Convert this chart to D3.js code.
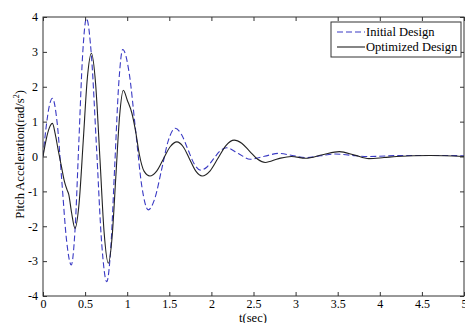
<!DOCTYPE html>
<html><head><meta charset="utf-8">
<script src="https://cdn.jsdelivr.net/npm/d3@7/dist/d3.min.js"></script>
<style>
html,body{margin:0;padding:0;background:#fff;}
svg{display:block;}
text{font-family:"Liberation Serif","Times New Roman",serif;fill:#000;}
</style></head>
<body>
<svg id="chart" width="465" height="323"></svg>
<script>
// ---- data ----
const seriesNames = ["Initial Design", "Optimized Design"];
const xTicks = [0, 0.5, 1, 1.5, 2, 2.5, 3, 3.5, 4, 4.5, 5];
const xTickLabels = ["0", "0.5", "1", "1.5", "2", "2.5", "3", "3.5", "4", "4.5", "5"];
const yTicks = [-4, -3, -2, -1, 0, 1, 2, 3, 4];
const yTickLabels = ["-4", "-3", "-2", "-1", "0", "1", "2", "3", "4"];

const tInitial = [0, 0.037, 0.075, 0.112, 0.168, 0.224, 0.28, 0.336, 0.381, 0.426, 0.471, 0.516,
  0.576, 0.637, 0.697, 0.757, 0.805, 0.852, 0.9, 0.947, 1.023, 1.099, 1.174, 1.25,
  1.33, 1.41, 1.49, 1.57, 1.645, 1.72, 1.795, 1.87, 1.948, 2.025, 2.103, 2.18,
  2.32, 2.46, 2.63, 2.8, 2.96, 3.12, 3.3, 3.47, 3.66, 3.85, 4.3, 4.7, 5.0];
const initial = [0, 0.84, 1.45, 1.67, 0.97, -0.72, -2.41, -3.11, -2.08, 0.43, 2.93, 3.96,
  2.86, 0.19, -2.49, -3.59, -2.62, -0.26, 2.10, 3.07, 2.40, 0.77, -0.86, -1.53,
  -1.19, -0.36, 0.47, 0.81, 0.63, 0.21, -0.21, -0.39, -0.30, -0.07, 0.16, 0.25,
  0.085, -0.08, 0.005, 0.09, 0.03, -0.03, 0.02, 0.07, 0.035, 0.0, 0.03, 0.03, 0.02];

const tOptimized = [0, 0.037, 0.075, 0.112, 0.145, 0.18, 0.22, 0.255, 0.285, 0.305, 0.34, 0.38,
  0.429, 0.478, 0.526, 0.575, 0.625, 0.676, 0.726, 0.776, 0.82, 0.865, 0.91, 0.954,
  1.0, 1.056, 1.1, 1.145, 1.2, 1.27, 1.35, 1.43, 1.51, 1.59, 1.665, 1.74, 1.815, 1.89,
  1.985, 2.08, 2.175, 2.27, 2.36, 2.455, 2.55, 2.64, 2.8, 2.95, 3.12, 3.32, 3.52,
  3.7, 3.87, 4.05, 4.2, 4.6, 5.0];
const optimized = [0, 0.48, 0.82, 0.95, 0.65, 0.19, -0.30, -0.72, -0.95, -1.08, -1.62, -2.06,
  -1.33, 0.45, 2.23, 2.96, 2.08, -0.05, -2.18, -3.06, -2.33, -0.58, 1.17, 1.90,
  1.62, 1.24, 0.72, 0.05, -0.42, -0.56, -0.42, -0.07, 0.28, 0.42, 0.28, -0.07, -0.42, -0.56,
  -0.41, -0.045, 0.32, 0.47, 0.38, 0.15, -0.08, -0.17, -0.06, 0.0, -0.05, 0.05, 0.14,
  0.04, -0.06, -0.03, 0.0, 0.03, 0.0];

// ---- layout ----
const svg = d3.select("#chart");
const pL = 43, pR = 464, pT = 17, pB = 296;
const x = d3.scaleLinear().domain([0, 5]).range([pL, pR]);
const y = d3.scaleLinear().domain([-4, 4]).range([pB, pT]);

const g = svg.append("g");

// curves
const line = d3.line().x(d => x(d[0])).y(d => y(d[1])).curve(d3.curveMonotoneX);
const initData = tInitial.map((t, i) => [t, initial[i]]);
const optData = tOptimized.map((t, i) => [t, optimized[i]]);

svg.append("clipPath").attr("id", "clip").append("rect")
  .attr("x", pL).attr("y", pT - 1).attr("width", pR - pL).attr("height", pB - pT + 2);

g.append("path").datum(initData).attr("d", line).attr("clip-path", "url(#clip)")
  .attr("fill", "none").attr("stroke", "#3a3ac4").attr("stroke-width", 1.1)
  .attr("stroke-dasharray", "6,3");
g.append("path").datum(optData).attr("d", line).attr("clip-path", "url(#clip)")
  .attr("fill", "none").attr("stroke", "#222").attr("stroke-width", 1.1);

// axes with inward ticks on all four sides
const tickLen = 4;
const axColor = "#333";
const xb = d3.axisBottom(x).tickValues(xTicks).tickSizeInner(-tickLen).tickSizeOuter(0)
  .tickPadding(3).tickFormat((d, i) => xTickLabels[i]);
const yl = d3.axisLeft(y).tickValues(yTicks).tickSizeInner(-tickLen).tickSizeOuter(0)
  .tickPadding(5).tickFormat((d, i) => yTickLabels[i]);
const xt = d3.axisTop(x).tickValues(xTicks).tickSizeInner(-tickLen).tickSizeOuter(0).tickFormat("");
const yr = d3.axisRight(y).tickValues(yTicks).tickSizeInner(-tickLen).tickSizeOuter(0).tickFormat("");

function style(sel) {
  sel.attr("font-family", null).attr("font-size", null);
  sel.selectAll("path.domain").remove();
  sel.selectAll("line").attr("stroke", axColor);
  sel.selectAll("text").style("font-family", "'Liberation Serif', serif").style("font-size", "12px").attr("fill", "#000");
}
g.append("g").attr("transform", `translate(0,${pB})`).call(xb).call(style);
g.append("g").attr("transform", `translate(${pL},0)`).call(yl).call(style);
g.append("g").attr("transform", `translate(0,${pT})`).call(xt).call(style);
g.append("g").attr("transform", `translate(${pR},0)`).call(yr).call(style);

// frame
g.append("rect").attr("x", pL).attr("y", pT).attr("width", pR - pL).attr("height", pB - pT)
  .attr("fill", "none").attr("stroke", axColor).attr("stroke-width", 1);

// axis labels
svg.append("text").attr("x", 253).attr("y", 321.5).attr("text-anchor", "middle")
  .attr("font-size", 12.5).text("t(sec)");
const yt = svg.append("text").attr("transform", `translate(24,${(pT + pB) / 2 - 2}) rotate(-90)`)
  .attr("text-anchor", "middle").attr("font-size", 12.5);
yt.append("tspan").text("Pitch Acceleration(rad/s");
yt.append("tspan").attr("dy", -5).attr("font-size", 8).text("2");
yt.append("tspan").attr("dy", 5).text(")");

// legend
const lg = svg.append("g");
const lx = 331, ly = 22, lw = 130, lh = 35;
lg.append("rect").attr("x", lx).attr("y", ly).attr("width", lw).attr("height", lh)
  .attr("fill", "#fff").attr("stroke", axColor).attr("stroke-width", 1);
const rows = [
  {name: seriesNames[0], color: "#3a3ac4", dash: "6,3"},
  {name: seriesNames[1], color: "#222", dash: null}
];
rows.forEach((r, i) => {
  const yy = ly + 10 + i * 15;
  lg.append("line").attr("x1", lx + 6).attr("x2", lx + 34).attr("y1", yy).attr("y2", yy)
    .attr("stroke", r.color).attr("stroke-width", 1.1).attr("stroke-dasharray", r.dash);
  lg.append("text").attr("x", lx + 35).attr("y", yy + 4).attr("font-size", 12.5).text(r.name);
});
</script>
</body></html>
